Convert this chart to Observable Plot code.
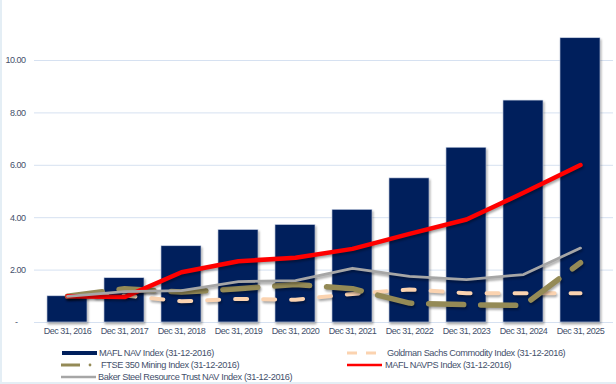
<!DOCTYPE html>
<html>
<head>
<meta charset="utf-8">
<script src="https://cdn.jsdelivr.net/npm/d3@7"></script>
<script src="https://cdn.jsdelivr.net/npm/@observablehq/plot@0.6"></script>
<style>
  body { margin: 0; background: #fff; font-family: "Liberation Sans", Arial, sans-serif; }
  #wrap { position: relative; width: 616px; height: 384px; overflow: hidden; }
  #frame { position: absolute; left: 0; top: 0; width: 616px; height: 384px; box-sizing: border-box;
           border-left: 2px solid #e4eef5; border-bottom: 2px solid #e4eef5; pointer-events: none; }
  .shadow { filter: drop-shadow(1px 2px 1.2px rgba(0,0,0,0.35)); }
  svg { display: block; }
  #chart text { letter-spacing: -0.5px; }
  #legend text { letter-spacing: -0.4px; }
</style>
</head>
<body>
<div id="wrap"><div id="chart"></div><div id="legend"></div><div id="frame"></div></div>
<script>
const dates = ["Dec 31, 2016","Dec 31, 2017","Dec 31, 2018","Dec 31, 2019","Dec 31, 2020",
               "Dec 31, 2021","Dec 31, 2022","Dec 31, 2023","Dec 31, 2024","Dec 31, 2025"];
const maflNav   = [1.00, 1.69, 2.91, 3.53, 3.72, 4.30, 5.50, 6.67, 8.47, 10.85];
const maflNavps = [1.00, 0.97, 1.92, 2.34, 2.47, 2.81, 3.38, 3.93, 4.95, 6.01];
const baker     = [1.00, 1.18, 1.22, 1.56, 1.60, 2.07, 1.76, 1.64, 1.83, 2.84];
const ftse      = [1.00, 1.29, 1.16, 1.29, 1.45, 1.29, 0.74, 0.68, 0.65, 2.28];
const goldman   = [1.00, 1.03, 0.81, 0.90, 0.87, 1.09, 1.26, 1.12, 1.12, 1.12];
const yTicks = [0, 2, 4, 6, 8, 10];
const seriesNames = {
  nav: "MAFL NAV Index  (31-12-2016)",
  gold: "Goldman Sachs Commodity Index (31-12-2016)",
  ftse: "FTSE 350 Mining Index (31-12-2016)",
  navps: "MAFL NAVPS Index (31-12-2016)",
  baker: "Baker Steel Resource Trust NAV Index (31-12-2016)"
};

const rows = dates.map((d, i) => ({date: d, nav: maflNav[i], navps: maflNavps[i], baker: baker[i], ftse: ftse[i], gold: goldman[i]}));

const textColor = "#44506b";
const chart = Plot.plot({
  width: 616,
  height: 340,
  marginLeft: 34,
  marginRight: 3,
  marginTop: 7.6,
  marginBottom: 18,
  style: {fontFamily: "'Liberation Sans', Arial, sans-serif", fontSize: "9px", color: textColor, background: "transparent"},
  x: {domain: dates, paddingInner: 0.3, paddingOuter: 0.15, label: null},
  y: {domain: [0, 12], label: null},
  marks: [
    Plot.gridY(yTicks.filter(d => d > 0), {stroke: "#d6e1f1", strokeOpacity: 1, strokeWidth: 1}),
    Plot.ruleY([0], {stroke: "#d6e1f1", strokeWidth: 1}),
    Plot.axisY(yTicks, {tickSize: 0, tickPadding: 9, fill: textColor, fontSize: 9,
      tickFormat: d => d === 0 ? "-\u2002\u2002" : d.toFixed(2)}),
    Plot.axisX({tickSize: 0, tickPadding: 5, fill: textColor, fontSize: 9}),
    Plot.barY(rows, {x: "date", y: "nav", fill: "#001f5c", stroke: "#c9d3e6", strokeWidth: 0.6, className: "shadow"}),
    Plot.line(rows, {x: "date", y: "gold", stroke: "#fbd3b0", strokeWidth: 4, strokeDasharray: "12,16", strokeLinecap: "round", className: "shadow"}),
    Plot.line(rows, {x: "date", y: "ftse", stroke: "#948a56", strokeWidth: 5.5, strokeDasharray: "35,17", strokeLinecap: "round", className: "shadow"}),
    Plot.line(rows, {x: "date", y: "navps", stroke: "#ff0000", strokeWidth: 4.5, strokeLinecap: "round", strokeLinejoin: "round", className: "shadow"}),
    Plot.line(rows, {x: "date", y: "baker", stroke: "#a6a6a6", strokeWidth: 2.8, strokeLinecap: "round", strokeLinejoin: "round", className: "shadow"})
  ]
});
document.getElementById("chart").appendChild(chart);

// Legend
const lg = d3.select("#legend").append("svg").attr("width", 616).attr("height", 44)
  .style("font-family", "'Liberation Sans', Arial, sans-serif").style("font-size", "9.2px");
const items = [
  {key: "nav",   x0: 62,  x1: 97,  tx: 99,  y: 13, type: "bar"},
  {key: "ftse",  x0: 61,  x1: 80,  tx: 101, y: 25, type: "dashdot"},
  {key: "baker", x0: 61,  x1: 96,  tx: 98,  y: 37, type: "gray"},
  {key: "gold",  x0: 347, x1: 376, tx: 387, y: 13, type: "dash"},
  {key: "navps", x0: 347, x1: 382, tx: 385, y: 25, type: "red"}
];
items.forEach(it => {
  if (it.type === "bar") {
    lg.append("rect").attr("x", it.x0).attr("y", it.y - 2).attr("width", it.x1 - it.x0).attr("height", 4).attr("fill", "#001f5c");
  } else if (it.type === "dashdot") {
    lg.append("line").attr("x1", it.x0).attr("x2", it.x1).attr("y1", it.y).attr("y2", it.y)
      .attr("stroke", "#948a56").attr("stroke-width", 3);
    lg.append("circle").attr("cx", 90).attr("cy", it.y).attr("r", 1.4).attr("fill", "#948a56");
  } else if (it.type === "gray") {
    lg.append("line").attr("x1", it.x0).attr("x2", it.x1).attr("y1", it.y).attr("y2", it.y)
      .attr("stroke", "#a6a6a6").attr("stroke-width", 2.5);
  } else if (it.type === "dash") {
    lg.append("line").attr("x1", it.x0).attr("x2", it.x1).attr("y1", it.y).attr("y2", it.y)
      .attr("stroke", "#fbd3b0").attr("stroke-width", 3).attr("stroke-dasharray", "10,9");
  } else if (it.type === "red") {
    lg.append("line").attr("x1", it.x0).attr("x2", it.x1).attr("y1", it.y).attr("y2", it.y)
      .attr("stroke", "#ff0000").attr("stroke-width", 2.5);
  }
  lg.append("text").attr("x", it.tx).attr("y", it.y).attr("dy", "0.35em").attr("fill", textColor).text(seriesNames[it.key]);
});
</script>
</body>
</html>
